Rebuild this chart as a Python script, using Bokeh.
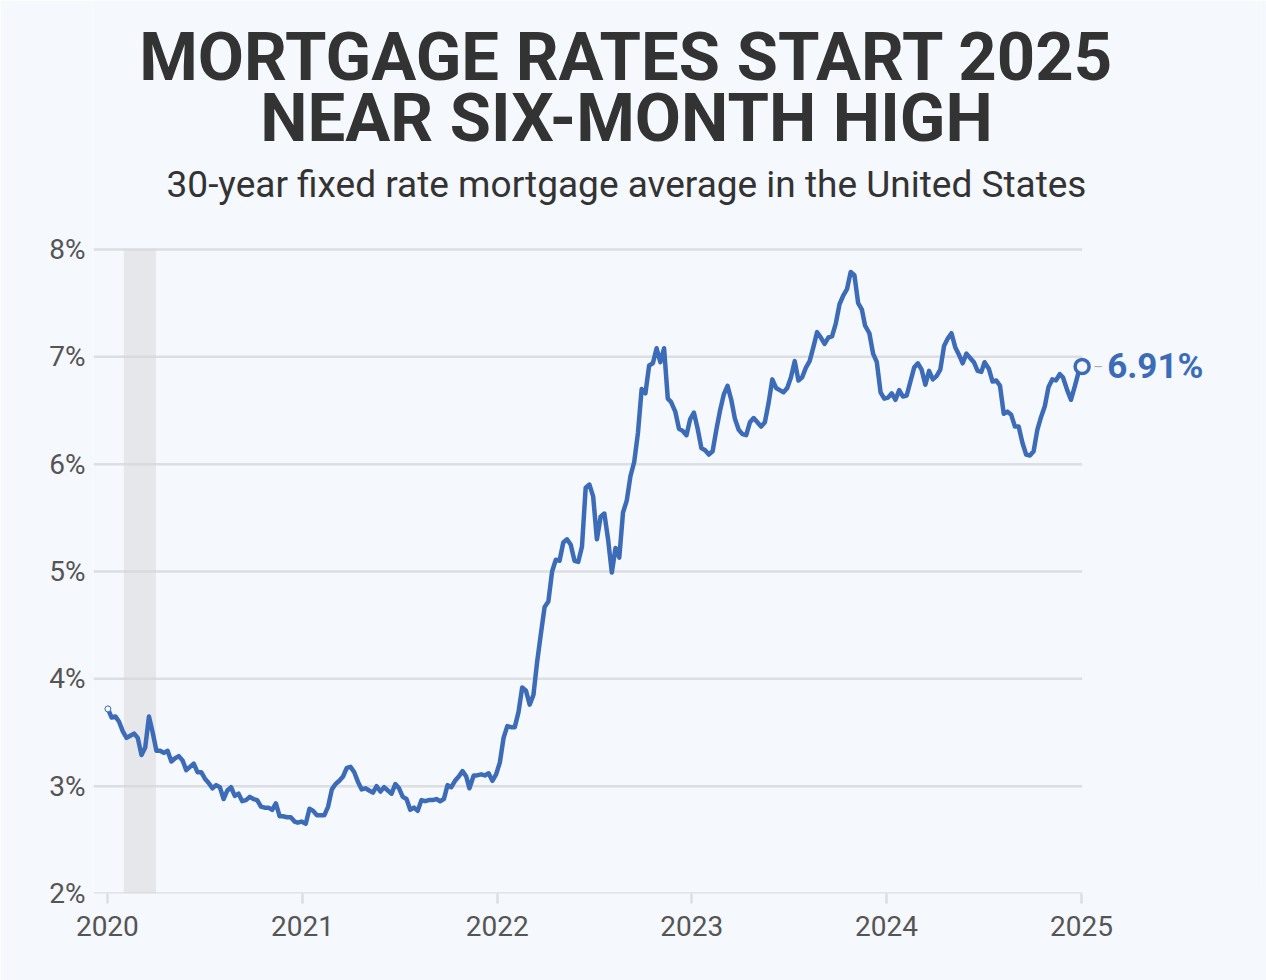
import pandas as pd
from bokeh.plotting import figure
from bokeh.models import (ColumnDataSource, Label, FixedTicker,
                          DatetimeTickFormatter, PrintfTickFormatter)
from bokeh.embed import file_html
from bokeh.resources import INLINE

# ---------------- data ----------------
dates = [
    # 2020
    "2020-01-02", "2020-01-09", "2020-01-16", "2020-01-23", "2020-01-30", "2020-02-06", "2020-02-13",
    "2020-02-20", "2020-02-27", "2020-03-05", "2020-03-12", "2020-03-19", "2020-03-26", "2020-04-02",
    "2020-04-09", "2020-04-16", "2020-04-23", "2020-04-30", "2020-05-07", "2020-05-14", "2020-05-21",
    "2020-05-28", "2020-06-04", "2020-06-11", "2020-06-18", "2020-06-25", "2020-07-02", "2020-07-09",
    "2020-07-16", "2020-07-23", "2020-07-30", "2020-08-06", "2020-08-13", "2020-08-20", "2020-08-27",
    "2020-09-03", "2020-09-10", "2020-09-17", "2020-09-24", "2020-10-01", "2020-10-08", "2020-10-15",
    "2020-10-22", "2020-10-29", "2020-11-05", "2020-11-12", "2020-11-19", "2020-11-25", "2020-12-03",
    "2020-12-10", "2020-12-17", "2020-12-23", "2020-12-30",
    # 2021
    "2021-01-07", "2021-01-14", "2021-01-21", "2021-01-28", "2021-02-04", "2021-02-11", "2021-02-18",
    "2021-02-25", "2021-03-04", "2021-03-11", "2021-03-18", "2021-03-25", "2021-04-01", "2021-04-08",
    "2021-04-15", "2021-04-22", "2021-04-29", "2021-05-06", "2021-05-13", "2021-05-20", "2021-05-27",
    "2021-06-03", "2021-06-10", "2021-06-17", "2021-06-24", "2021-07-01", "2021-07-08", "2021-07-15",
    "2021-07-22", "2021-07-29", "2021-08-05", "2021-08-12", "2021-08-19", "2021-08-26", "2021-09-02",
    "2021-09-09", "2021-09-16", "2021-09-23", "2021-09-30", "2021-10-07", "2021-10-14", "2021-10-21",
    "2021-10-28", "2021-11-04", "2021-11-10", "2021-11-18", "2021-11-24", "2021-12-02", "2021-12-09",
    "2021-12-16", "2021-12-23", "2021-12-30",
    # 2022
    "2022-01-06", "2022-01-13", "2022-01-20", "2022-01-27", "2022-02-03", "2022-02-10", "2022-02-17",
    "2022-02-24", "2022-03-03", "2022-03-10", "2022-03-17", "2022-03-24", "2022-03-31", "2022-04-07",
    "2022-04-14", "2022-04-21", "2022-04-28", "2022-05-05", "2022-05-12", "2022-05-19", "2022-05-26",
    "2022-06-02", "2022-06-09", "2022-06-16", "2022-06-23", "2022-06-30", "2022-07-07", "2022-07-14",
    "2022-07-21", "2022-07-28", "2022-08-04", "2022-08-11", "2022-08-18", "2022-08-25", "2022-09-01",
    "2022-09-08", "2022-09-15", "2022-09-22", "2022-09-29", "2022-10-06", "2022-10-13", "2022-10-20",
    "2022-10-27", "2022-11-03", "2022-11-10", "2022-11-17", "2022-11-23", "2022-12-01", "2022-12-08",
    "2022-12-15", "2022-12-22", "2022-12-29",
    # 2023
    "2023-01-05", "2023-01-12", "2023-01-19", "2023-01-26", "2023-02-02", "2023-02-09", "2023-02-16",
    "2023-02-23", "2023-03-02", "2023-03-09", "2023-03-16", "2023-03-23", "2023-03-30", "2023-04-06",
    "2023-04-13", "2023-04-20", "2023-04-27", "2023-05-04", "2023-05-11", "2023-05-18", "2023-05-25",
    "2023-06-01", "2023-06-08", "2023-06-15", "2023-06-22", "2023-06-29", "2023-07-06", "2023-07-13",
    "2023-07-20", "2023-07-27", "2023-08-03", "2023-08-10", "2023-08-17", "2023-08-24", "2023-08-31",
    "2023-09-07", "2023-09-14", "2023-09-21", "2023-09-28", "2023-10-05", "2023-10-12", "2023-10-19",
    "2023-10-26", "2023-11-02", "2023-11-09", "2023-11-16", "2023-11-22", "2023-11-30", "2023-12-07",
    "2023-12-14", "2023-12-21", "2023-12-28",
    # 2024
    "2024-01-04", "2024-01-11", "2024-01-18", "2024-01-25", "2024-02-01", "2024-02-08", "2024-02-15",
    "2024-02-22", "2024-02-29", "2024-03-07", "2024-03-14", "2024-03-21", "2024-03-28", "2024-04-04",
    "2024-04-11", "2024-04-18", "2024-04-25", "2024-05-02", "2024-05-09", "2024-05-16", "2024-05-23",
    "2024-05-30", "2024-06-06", "2024-06-13", "2024-06-20", "2024-06-27", "2024-07-03", "2024-07-11",
    "2024-07-18", "2024-07-25", "2024-08-01", "2024-08-08", "2024-08-15", "2024-08-22", "2024-08-29",
    "2024-09-05", "2024-09-12", "2024-09-19", "2024-09-26", "2024-10-03", "2024-10-10", "2024-10-17",
    "2024-10-24", "2024-10-31", "2024-11-07", "2024-11-14", "2024-11-21", "2024-11-27", "2024-12-05",
    "2024-12-12", "2024-12-19", "2024-12-26",
    # 2025
    "2025-01-02",
]

rates = [
    # 2020
    3.72, 3.64, 3.65, 3.60, 3.51, 3.45, 3.47, 3.49, 3.45, 3.29, 3.36, 3.65, 3.50, 3.33,
    3.33, 3.31, 3.33, 3.23, 3.26, 3.28, 3.24, 3.15, 3.18, 3.21, 3.13, 3.13, 3.07, 3.03,
    2.98, 3.01, 2.99, 2.88, 2.96, 2.99, 2.91, 2.93, 2.86, 2.87, 2.90, 2.88, 2.87, 2.81,
    2.80, 2.80, 2.78, 2.84, 2.72, 2.72, 2.71, 2.71, 2.67, 2.66, 2.67,
    # 2021
    2.65, 2.79, 2.77, 2.73, 2.73, 2.73, 2.81, 2.97, 3.02, 3.05, 3.09, 3.17, 3.18, 3.13,
    3.04, 2.97, 2.98, 2.96, 2.94, 3.00, 2.95, 2.99, 2.96, 2.93, 3.02, 2.98, 2.90, 2.88,
    2.78, 2.80, 2.77, 2.87, 2.86, 2.87, 2.87, 2.88, 2.86, 2.88, 3.01, 2.99, 3.05, 3.09,
    3.14, 3.09, 2.98, 3.10, 3.10, 3.11, 3.10, 3.12, 3.05, 3.11,
    # 2022
    3.22, 3.45, 3.56, 3.55, 3.55, 3.69, 3.92, 3.89, 3.76, 3.85, 4.16, 4.42, 4.67, 4.72,
    5.00, 5.11, 5.10, 5.27, 5.30, 5.25, 5.10, 5.09, 5.23, 5.78, 5.81, 5.70, 5.30, 5.51,
    5.54, 5.30, 4.99, 5.22, 5.13, 5.55, 5.66, 5.89, 6.02, 6.29, 6.70, 6.66, 6.92, 6.94,
    7.08, 6.95, 7.08, 6.61, 6.58, 6.49, 6.33, 6.31, 6.27, 6.42,
    # 2023
    6.48, 6.33, 6.15, 6.13, 6.09, 6.12, 6.32, 6.50, 6.65, 6.73, 6.60, 6.42, 6.32, 6.28,
    6.27, 6.39, 6.43, 6.39, 6.35, 6.39, 6.57, 6.79, 6.71, 6.69, 6.67, 6.71, 6.81, 6.96,
    6.78, 6.81, 6.90, 6.96, 7.09, 7.23, 7.18, 7.12, 7.18, 7.19, 7.31, 7.49, 7.57, 7.63,
    7.79, 7.76, 7.50, 7.44, 7.29, 7.22, 7.03, 6.95, 6.67, 6.61,
    # 2024
    6.62, 6.66, 6.60, 6.69, 6.63, 6.64, 6.77, 6.90, 6.94, 6.88, 6.74, 6.87, 6.79, 6.82,
    6.88, 7.10, 7.17, 7.22, 7.09, 7.02, 6.94, 7.03, 6.99, 6.95, 6.87, 6.86, 6.95, 6.89,
    6.77, 6.78, 6.73, 6.47, 6.49, 6.46, 6.35, 6.35, 6.20, 6.09, 6.08, 6.12, 6.32, 6.44,
    6.54, 6.72, 6.79, 6.78, 6.84, 6.81, 6.69, 6.60, 6.72, 6.85,
    # 2025
    6.91,
]

y_ticks = [2, 3, 4, 5, 6, 7, 8]
x_tick_years = [2020, 2021, 2022, 2023, 2024, 2025]
recession = ("2020-02-01", "2020-04-01")
title_lines = ["MORTGAGE RATES START 2025", "NEAR SIX-MONTH HIGH"]
subtitle = "30-year fixed rate mortgage average in the United States"

# ---------------- style ----------------
BG = "#f5f8fc"
BLUE = "#3c6bb8"
GRID = "#dcdee1"
TICK_TXT = "#555555"
TITLE_TXT = "#333333"
FONT = "Roboto"

W, H = 1266, 980
FRAME_L, FRAME_R, FRAME_B = 93, 1256, 893      # frame spans to the top of the canvas
PX_PER_PCT = 107.33


def ms(d):
    return pd.Timestamp(d).value / 1e6


x_ms = [ms(d) for d in dates]
src = ColumnDataSource(dict(x=x_ms, y=rates))

x_start = ms("2019-12-06")
x_end = ms("2025-11-25")
last_x = x_ms[-1]
y_end = y_ticks[0] + FRAME_B / PX_PER_PCT

p = figure(width=W, height=H, x_axis_type="datetime",
           x_range=(x_start, x_end), y_range=(y_ticks[0], y_end),
           output_backend="svg", toolbar_location=None, title=None,
           min_border_left=FRAME_L, min_border_right=W - FRAME_R,
           min_border_top=0, min_border_bottom=H - FRAME_B,
           background_fill_color=BG, border_fill_color=BG,
           outline_line_color=None)

p.xgrid.visible = False
p.ygrid.visible = False

# horizontal gridlines (ending at the last data point)
p.segment(x0=[x_start] * len(y_ticks), y0=y_ticks,
          x1=[last_x] * len(y_ticks), y1=y_ticks,
          line_color=GRID, line_width=2.5)

# recession shading
p.quad(left=[ms(recession[0])], right=[ms(recession[1])], bottom=[y_ticks[0]], top=[y_ticks[-1]],
       fill_color="#d6d6d7", fill_alpha=0.5, line_color=None)

# main series
p.line("x", "y", source=src, line_color=BLUE, line_width=4.5, line_join="round", line_cap="round")

# start / end markers
p.scatter(x=[x_ms[0]], y=[rates[0]], size=6, fill_color=BG, line_color=BLUE, line_width=1)
p.scatter(x=[last_x], y=[rates[-1]], size=14, fill_color=BG, line_color=BLUE, line_width=3.5)

p.add_layout(Label(x=last_x, y=rates[-1], text="\u2013", x_offset=11, text_baseline="middle",
                   text_font=FONT, text_font_size="15px", text_color="#aaaaaa"))
p.add_layout(Label(x=last_x, y=rates[-1], text=f"{rates[-1]:.2f}%", x_offset=25,
                   text_baseline="middle", text_font=FONT, text_font_style="bold",
                   text_font_size="35px", text_color=BLUE))

# axes
xa = p.xaxis[0]
xa.ticker = FixedTicker(ticks=[ms(f"{y}-01-01") for y in x_tick_years], minor_ticks=[])
xa.formatter = DatetimeTickFormatter(years="%Y", months="%Y", days="%Y", hours="%Y",
                                     hourmin="%Y", minutes="%Y", minsec="%Y", seconds="%Y",
                                     milliseconds="%Y", microseconds="%Y")
xa.axis_line_color = None
xa.major_tick_line_color = GRID
xa.major_tick_line_width = 2.5
xa.major_tick_in = 0
xa.major_tick_out = 10
xa.major_label_standoff = 12
xa.major_label_text_font = FONT
xa.major_label_text_font_size = "28px"
xa.major_label_text_color = TICK_TXT

ya = p.yaxis[0]
ya.ticker = FixedTicker(ticks=y_ticks, minor_ticks=[])
ya.formatter = PrintfTickFormatter(format="%d%%")
ya.axis_line_color = None
ya.major_tick_line_color = None
ya.major_tick_in = 0
ya.major_tick_out = 0
ya.major_label_standoff = 8
ya.major_label_text_font = FONT
ya.major_label_text_font_size = "28px"
ya.major_label_text_color = TICK_TXT

# titles (screen units relative to the plot frame: x from left, y from bottom)
cx = 626 - FRAME_L
p.add_layout(Label(x=cx, y=FRAME_B - 56, x_units="screen", y_units="screen", text=title_lines[0],
                   text_align="center", text_baseline="alphabetic", text_font=FONT,
                   text_font_style="bold", text_font_size="67px", text_color=TITLE_TXT))
p.add_layout(Label(x=cx, y=FRAME_B - 117, x_units="screen", y_units="screen", text=title_lines[1],
                   text_align="center", text_baseline="alphabetic", text_font=FONT,
                   text_font_style="bold", text_font_size="67px", text_color=TITLE_TXT))
p.add_layout(Label(x=cx, y=FRAME_B - 184, x_units="screen", y_units="screen", text=subtitle,
                   text_align="center", text_baseline="alphabetic", text_font=FONT,
                   text_font_size="37px", text_color=TITLE_TXT))

open("out.html", "w").write(file_html(p, INLINE))
